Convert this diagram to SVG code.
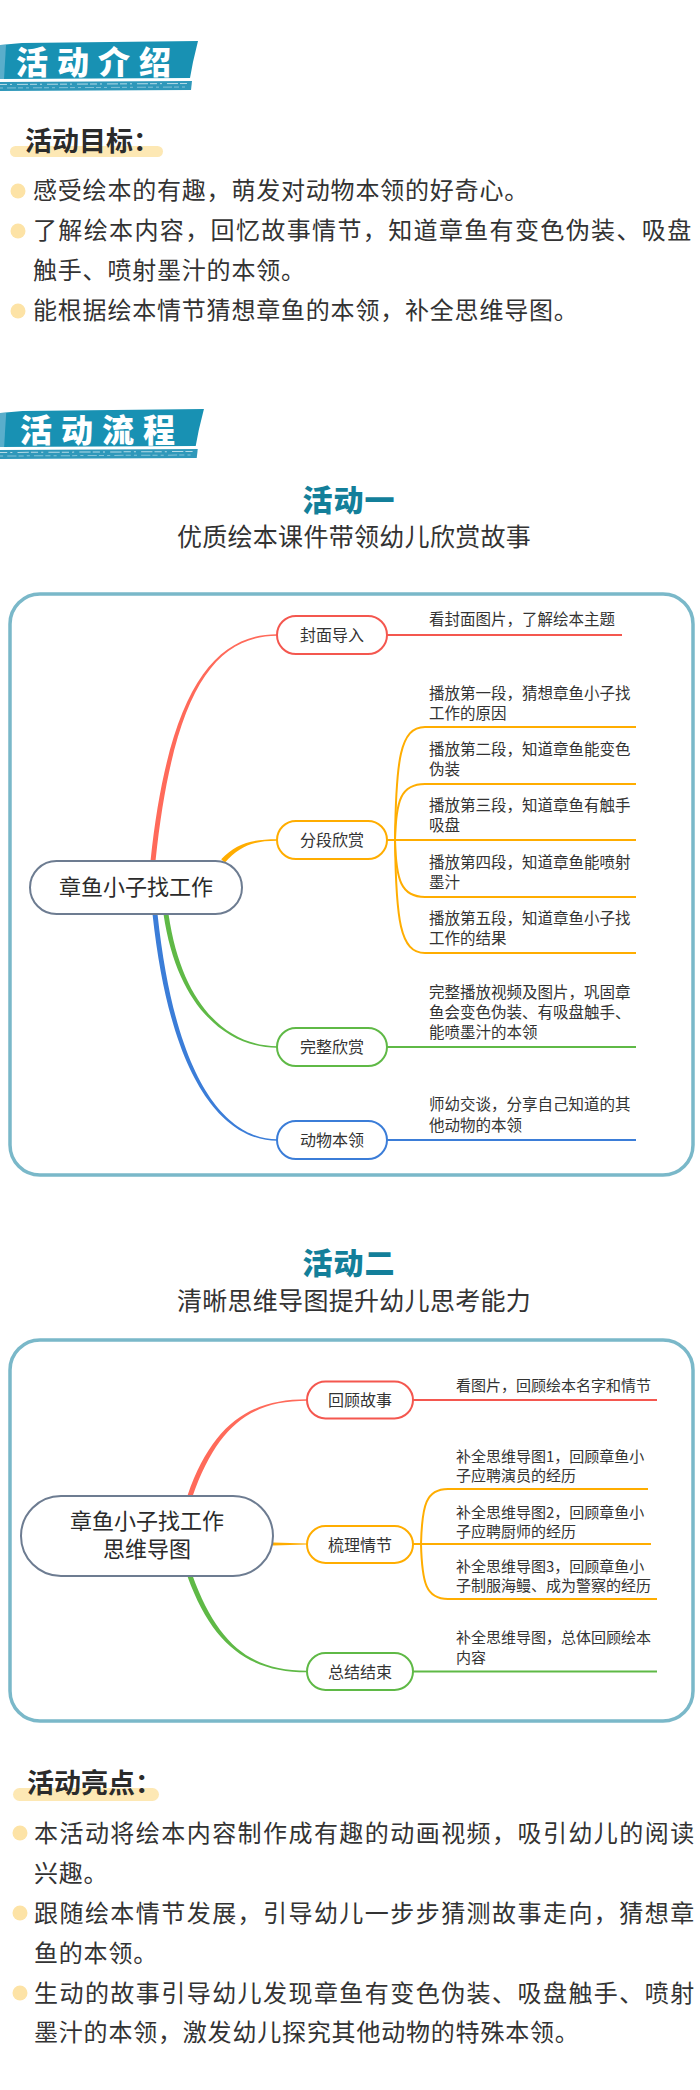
<svg xmlns="http://www.w3.org/2000/svg" width="700" height="2090" viewBox="0 0 700 2090">
<style>
  text { font-family: "Noto Sans CJK SC", "Noto Sans", sans-serif; }
  .banner-t { fill: #ffffff; font-size: 32px; font-weight: 900; letter-spacing: 9px; }
  .h2 { fill: #2b2b2b; font-size: 27px; font-weight: 700; }
  .hl { fill: #fde8b4; }
  .dot { fill: #fde3a6; }
  .body { fill: #333333; font-size: 24px; letter-spacing: 0.8px; }
  .act { fill: #137f9a; font-size: 30px; font-weight: 900; letter-spacing: 1px; }
  .sub { fill: #333333; font-size: 25px; letter-spacing: 0.3px; }
  .frame { fill: #ffffff; stroke: #7ab8c9; stroke-width: 3.5; }
  .center { fill: #ffffff; stroke: #6d7c91; stroke-width: 2; }
  .ct { fill: #2b2b2b; font-size: 22px; text-anchor: middle; }
  .node { fill: #ffffff; stroke-width: 2; }
  .nt { fill: #333333; font-size: 16px; text-anchor: middle; }
  .leaf { fill: #333333; font-size: 15.5px; }
  .leaf2 { fill: #333333; font-size: 15px; }
  .red { stroke: #f4574f; }
  .orange { stroke: #ffad00; }
  .green { stroke: #5fb946; }
  .blue { stroke: #3b7dd8; }
  .ln { fill: none; stroke-width: 2; }
  .fred { fill: #ff6a5a; }
  .forange { fill: #ffad00; }
  .fgreen { fill: #5fb946; }
  .fblue { fill: #3b7dd8; }
</style>
<defs>
  <g id="bannerShape">
    <path d="M0,45 L22,43 L198,41 L193,62 L190,78 L0,79 Z" fill="#1891b3"/>
    <path d="M0,45 L6,45 L4,79 L0,79 Z" fill="#5aaecb"/>
    <path d="M0,82 L192,81 L191,90 L0,91 Z" fill="#2f98ba"/>
    <line x1="0" y1="84.5" x2="190" y2="83.5" stroke="#d6ecf3" stroke-width="1" stroke-dasharray="7 3 2 5 11 2" opacity="0.8"/>
    <line x1="0" y1="88" x2="189" y2="87" stroke="#a9d6e6" stroke-width="1" stroke-dasharray="3 4 9 2 5 3" opacity="0.7"/>
  </g>
</defs>

<rect width="700" height="2090" fill="#ffffff"/>

<!-- Section 1: 活动介绍 -->
<g id="banner-intro">
  <use href="#bannerShape"/>
  <text class="banner-t" x="16" y="74">活动介绍</text>
</g>

<g id="goals">
  <rect class="hl" x="10" y="146" width="153" height="11" rx="5.5"/>
  <text class="h2" x="25" y="151">活动目标：</text>
  <circle class="dot" cx="18" cy="191" r="7.5"/>
  <text class="body" x="33" y="199">感受绘本的有趣，萌发对动物本领的好奇心。</text>
  <circle class="dot" cx="18" cy="231" r="7.5"/>
  <text class="body" x="33" y="239" textLength="659" lengthAdjust="spacing">了解绘本内容，回忆故事情节，知道章鱼有变色伪装、吸盘</text>
  <text class="body" x="33" y="279">触手、喷射墨汁的本领。</text>
  <circle class="dot" cx="18" cy="311" r="7.5"/>
  <text class="body" x="33" y="319">能根据绘本情节猜想章鱼的本领，补全思维导图。</text>
</g>

<!-- Section 2: 活动流程 -->
<g id="banner-flow">
  <use href="#bannerShape" transform="translate(0,368) scale(1.03,1)"/>
  <text class="banner-t" x="20" y="442">活动流程</text>
</g>

<g id="activity1-title">
  <text class="act" x="349" y="511" text-anchor="middle">活动一</text>
  <text class="sub" x="354" y="546" text-anchor="middle">优质绘本课件带领幼儿欣赏故事</text>
</g>

<rect id="frame1" class="frame" x="10" y="594" width="683" height="581" rx="30"/>

<g id="connectors1">
  <!-- main branches (tapered) -->
  <path class="fred" d="M150.5,861 C167.5,700 209.5,634.2 277,634.2 L277,635.8 C210.5,635.8 172.5,700 155.5,861 Z"/>
  <path class="forange" d="M221.2,859.3 C236.2,843.3 252,839.2 277,839.2 L277,840.8 C252,840.8 239.8,846.7 224.8,862.7 Z"/>
  <path class="fblue" d="M152.5,914 C172.5,1100 234,1140.8 277,1140.8 L277,1139.2 C236,1139.2 177.5,1100 157.5,914 Z"/>
  <path class="fgreen" d="M163.5,914 C177.5,1010 229,1047.8 277,1047.8 L277,1046.2 C231,1046.2 182.5,1010 168.5,914 Z"/>
  <!-- leaf lines -->
  <path class="ln red" d="M387,635 L622,635"/>
  <path class="ln orange" d="M387,840 L395,840 C396,760 400,727 425,727 L636,727"/>
  <path class="ln orange" d="M395,840 C396,800 401,784 425,784 L636,784"/>
  <path class="ln orange" d="M395,840 L636,840"/>
  <path class="ln orange" d="M395,840 C396,880 401,897 425,897 L636,897"/>
  <path class="ln orange" d="M395,840 C396,920 400,953 425,953 L636,953"/>
  <path class="ln green" d="M387,1047 L636,1047"/>
  <path class="ln blue" d="M387,1140 L636,1140"/>
</g>

<g id="m1-center">
  <rect class="center" x="30" y="861" width="212" height="53" rx="26.5"/>
  <text class="ct" x="136" y="895">章鱼小子找工作</text>
</g>
<g id="m1-cover">
  <rect class="node red" x="277" y="616" width="110" height="38" rx="19"/>
  <text class="nt" x="332" y="641">封面导入</text>
  <text class="leaf" x="429" y="625">看封面图片，了解绘本主题</text>
</g>
<g id="m1-segment">
  <rect class="node orange" x="277" y="821" width="110" height="38" rx="19"/>
  <text class="nt" x="332" y="846">分段欣赏</text>
  <text class="leaf" x="429" y="699">播放第一段，猜想章鱼小子找</text>
  <text class="leaf" x="429" y="718.5">工作的原因</text>
  <text class="leaf" x="429" y="755">播放第二段，知道章鱼能变色</text>
  <text class="leaf" x="429" y="775">伪装</text>
  <text class="leaf" x="429" y="811">播放第三段，知道章鱼有触手</text>
  <text class="leaf" x="429" y="831">吸盘</text>
  <text class="leaf" x="429" y="868">播放第四段，知道章鱼能喷射</text>
  <text class="leaf" x="429" y="888">墨汁</text>
  <text class="leaf" x="429" y="924">播放第五段，知道章鱼小子找</text>
  <text class="leaf" x="429" y="944">工作的结果</text>
</g>
<g id="m1-full">
  <rect class="node green" x="277" y="1028" width="110" height="38" rx="19"/>
  <text class="nt" x="332" y="1053">完整欣赏</text>
  <text class="leaf" x="429" y="998">完整播放视频及图片，巩固章</text>
  <text class="leaf" x="429" y="1018">鱼会变色伪装、有吸盘触手、</text>
  <text class="leaf" x="429" y="1038">能喷墨汁的本领</text>
</g>
<g id="m1-animal">
  <rect class="node blue" x="277" y="1121" width="110" height="38" rx="19"/>
  <text class="nt" x="332" y="1146">动物本领</text>
  <text class="leaf" x="429" y="1110">师幼交谈，分享自己知道的其</text>
  <text class="leaf" x="429" y="1131">他动物的本领</text>
</g>

<g id="activity2-title">
  <text class="act" x="349" y="1274" text-anchor="middle">活动二</text>
  <text class="sub" x="354" y="1310" text-anchor="middle">清晰思维导图提升幼儿思考能力</text>
</g>

<rect id="frame2" class="frame" x="10" y="1340" width="683" height="381" rx="30"/>

<g id="connectors2">
  <path class="fred" d="M187.6,1495.2 C212.6,1424.2 249.5,1399.2 307,1399.2 L307,1400.8 C250.5,1400.8 217.4,1425.8 192.4,1496.8 Z"/>
  <path class="forange" d="M273,1542.6 L307,1543.4 L307,1544.6 L273,1545.4 Z"/>
  <path class="fgreen" d="M187.6,1576.8 C212.6,1645.8 249.5,1672.3 307,1672.3 L307,1670.7 C250.5,1670.7 217.4,1644.2 192.4,1575.2 Z"/>
  <path class="ln red" d="M413,1400 L657,1400"/>
  <path class="ln orange" d="M413,1544 L421,1544 C422,1505 426,1489 448,1489 L648,1489"/>
  <path class="ln orange" d="M421,1544 L651,1544"/>
  <path class="ln orange" d="M421,1544 C422,1583 426,1599 448,1599 L657,1599"/>
  <path class="ln green" d="M413,1671.5 L657,1671.5"/>
</g>

<g id="m2-center">
  <rect class="center" x="21" y="1496" width="252" height="80" rx="40"/>
  <text class="ct" x="147" y="1529" font-size="21.5">章鱼小子找工作</text>
  <text class="ct" x="147" y="1557" font-size="21.5">思维导图</text>
</g>
<g id="m2-review">
  <rect class="node red" x="307" y="1381.5" width="106" height="37" rx="18.5"/>
  <text class="nt" x="360" y="1406">回顾故事</text>
  <text class="leaf2" x="456" y="1390.7">看图片，回顾绘本名字和情节</text>
</g>
<g id="m2-plot">
  <rect class="node orange" x="307" y="1526" width="106" height="37" rx="18.5"/>
  <text class="nt" x="360" y="1550.5">梳理情节</text>
  <text class="leaf2" x="456" y="1461.7">补全思维导图1，回顾章鱼小</text>
  <text class="leaf2" x="456" y="1480.7">子应聘演员的经历</text>
  <text class="leaf2" x="456" y="1517.7">补全思维导图2，回顾章鱼小</text>
  <text class="leaf2" x="456" y="1536.7">子应聘厨师的经历</text>
  <text class="leaf2" x="456" y="1571.7">补全思维导图3，回顾章鱼小</text>
  <text class="leaf2" x="456" y="1590.7">子制服海鳗、成为警察的经历</text>
</g>
<g id="m2-summary">
  <rect class="node green" x="307" y="1653" width="106" height="37" rx="18.5"/>
  <text class="nt" x="360" y="1677.5">总结结束</text>
  <text class="leaf2" x="456" y="1642.7">补全思维导图，总体回顾绘本</text>
  <text class="leaf2" x="456" y="1662.7">内容</text>
</g>

<!-- Highlights -->
<g id="highlights">
  <rect class="hl" x="13" y="1788" width="146" height="13" rx="6.5"/>
  <text class="h2" x="27" y="1793">活动亮点：</text>
  <circle class="dot" cx="20" cy="1833" r="7.5"/>
  <text class="body" x="34" y="1842" textLength="661" lengthAdjust="spacing">本活动将绘本内容制作成有趣的动画视频，吸引幼儿的阅读</text>
  <text class="body" x="34" y="1882">兴趣。</text>
  <circle class="dot" cx="20" cy="1913" r="7.5"/>
  <text class="body" x="34" y="1922" textLength="661" lengthAdjust="spacing">跟随绘本情节发展，引导幼儿一步步猜测故事走向，猜想章</text>
  <text class="body" x="34" y="1962">鱼的本领。</text>
  <circle class="dot" cx="20" cy="1993" r="7.5"/>
  <text class="body" x="34" y="2002" textLength="661" lengthAdjust="spacing">生动的故事引导幼儿发现章鱼有变色伪装、吸盘触手、喷射</text>
  <text class="body" x="34" y="2041">墨汁的本领，激发幼儿探究其他动物的特殊本领。</text>
</g>
</svg>
